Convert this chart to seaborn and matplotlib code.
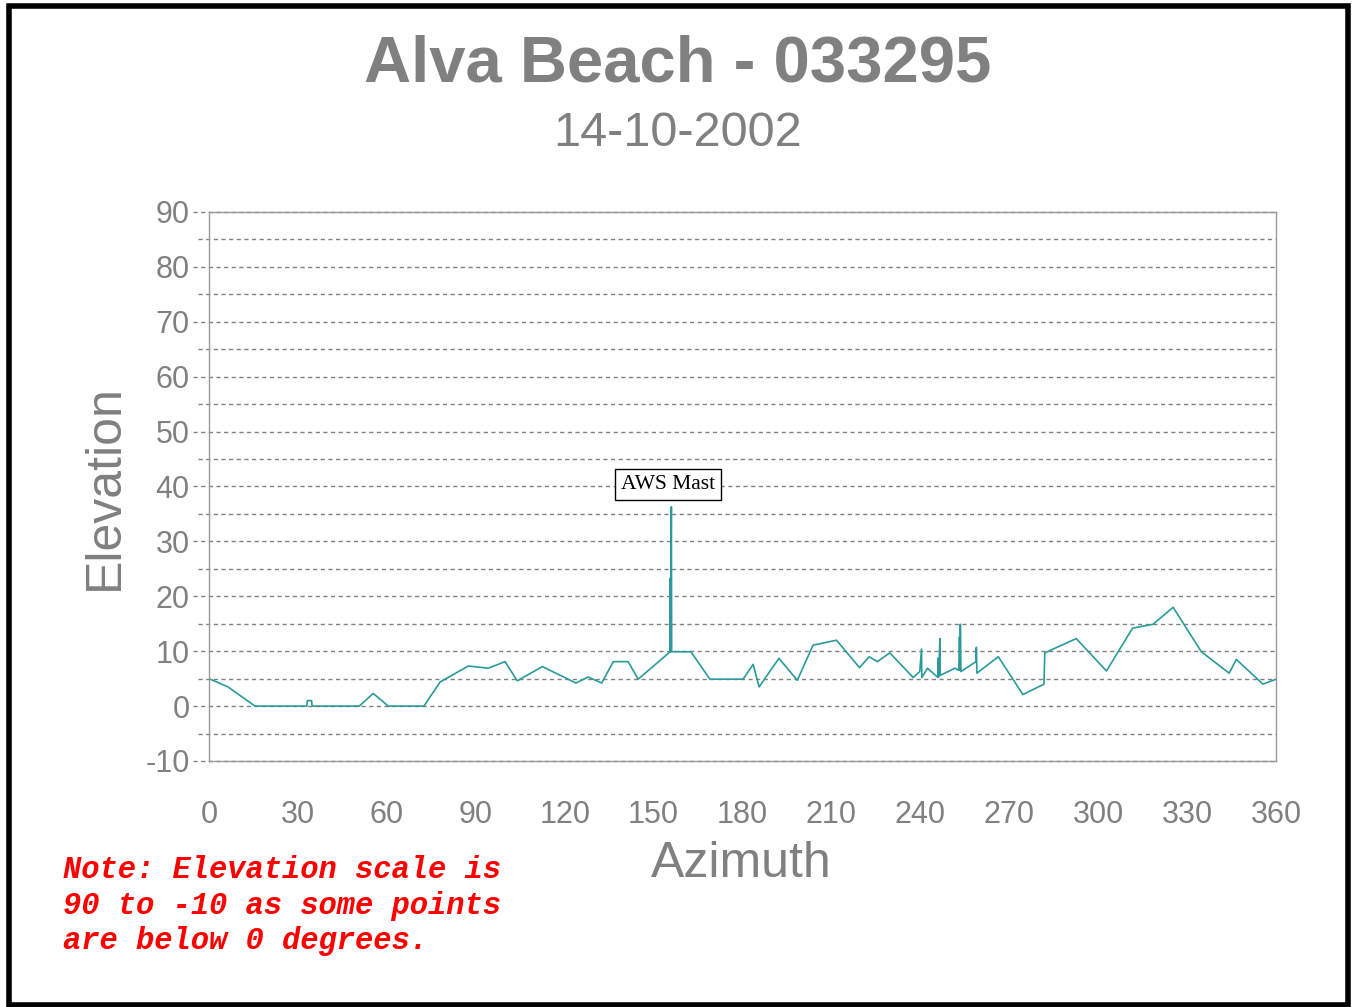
import matplotlib
matplotlib.use("Agg")
import matplotlib.pyplot as plt
import seaborn as sns
import pandas as pd
from matplotlib.patches import Rectangle

# Horizon profile (azimuth deg, elevation deg)
azimuth = [0, 6.4, 15.5, 33.0, 33.2, 34.6, 34.8, 50.7, 55.4, 60.5, 72.5, 78.0,
           87.5, 94.2, 99.9, 104.0, 112.5, 123.8, 127.9, 132.5, 136.4, 141.4,
           144.8, 155.6, 155.6, 155.7, 156.0, 156.1, 162.6, 169.0, 180.2,
           183.6, 185.6, 192.3, 198.5, 203.8, 211.7, 219.5, 222.7, 225.5,
           229.7, 237.6, 239.8, 240.4, 240.5, 242.4, 246.0, 246.0, 246.2,
           246.6, 246.7, 251.7, 253.0, 253.2, 253.4, 253.5, 253.7, 258.8,
           258.9, 259.1, 266.3, 274.6, 281.7, 282.0, 292.6, 302.8, 311.6,
           318.5, 325.3, 334.8, 344.2, 346.6, 355.6, 360.0]
elevation = [5.0, 3.5, 0.0, 0.0, 1.0, 1.0, 0.0, 0.0, 2.3, 0.0, 0.0, 4.4,
             7.3, 6.9, 8.1, 4.6, 7.2, 4.2, 5.3, 4.2, 8.1, 8.1,
             4.9, 9.9, 23.3, 9.9, 36.3, 9.9, 9.9, 4.9, 4.9,
             7.6, 3.5, 8.7, 4.7, 11.1, 12.0, 7.0, 9.0, 8.1,
             9.7, 5.2, 6.3, 10.4, 5.2, 6.9, 5.2, 8.7, 5.4,
             12.3, 5.6, 6.9, 6.5, 12.6, 6.6, 14.9, 6.3, 8.1,
             10.7, 6.0, 9.0, 2.1, 4.0, 9.7, 12.3, 6.4, 14.2,
             14.9, 18.0, 9.9, 6.0, 8.5, 4.0, 4.9]

x_ticks = list(range(0, 361, 30))
y_ticks = list(range(-10, 91, 10))
y_minor = list(range(-5, 90, 10))

GREY = "#808080"
LINE = "#2a9a9a"

df = pd.DataFrame({"Azimuth": azimuth, "Elevation": elevation})

sns.set_theme(style="white")
plt.rcParams["font.family"] = ["Liberation Sans", "DejaVu Sans"]
plt.rcParams["axes.unicode_minus"] = False

fig = plt.figure(figsize=(13.55, 10.07), dpi=100)
ax = fig.add_axes([209 / 1355, 1 - 761 / 1007, 1067 / 1355, 549 / 1007])

# dashed grid, stretched a little past the left spine like the original
for v in y_ticks:
    ax.axhline(v, xmin=-16 / 1067, xmax=1, color=GREY, lw=1, ls=(0, (3, 2.5)),
               clip_on=False, zorder=0)
for v in y_minor:
    ax.axhline(v, xmin=-11 / 1067, xmax=1, color=GREY, lw=1, ls=(0, (3, 2.5)),
               clip_on=False, zorder=0)

# raw order kept so the vertical spikes (repeated azimuths) survive
sns.lineplot(data=df, x="Azimuth", y="Elevation", sort=False, estimator=None,
             color=LINE, lw=1.2, ax=ax, legend=False)

ax.set_xlim(0, 360)
ax.set_ylim(-10, 90)
ax.set_xticks(x_ticks)
ax.set_yticks(y_ticks)
ax.tick_params(axis="x", length=0, pad=28, labelsize=22, labelcolor=GREY)
ax.tick_params(axis="y", length=0, pad=14, labelsize=22, labelcolor=GREY)
ax.set_xlabel("")
ax.set_ylabel("")
for s in ax.spines.values():
    s.set_color("#999999")
    s.set_linewidth(1)

ax.text(154.9, 40.4, "AWS Mast", ha="center", va="center", fontsize=15.5,
        family=["Liberation Serif", "DejaVu Serif"], color="black",
        bbox=dict(boxstyle="square,pad=0.28", fc="white", ec="black", lw=1))

fig.text(0.5, 1 - 65 / 1007, "Alva Beach - 033295", ha="center", va="center",
         fontsize=47, fontweight="bold", color=GREY)
fig.text(0.5, 1 - 134 / 1007, "14-10-2002", ha="center", va="center",
         fontsize=35, color=GREY)
fig.text(741 / 1355, 1 - 864 / 1007, "Azimuth", ha="center", va="center",
         fontsize=36, color=GREY)
fig.text(105 / 1355, 1 - 487 / 1007, "Elevation", ha="center", va="center",
         fontsize=36, color=GREY, rotation=90)

fig.text(63 / 1355, 1 - 855 / 1007,
         "Note: Elevation scale is\n90 to -10 as some points\nare below 0 degrees.",
         ha="left", va="top", fontsize=22, color="red", fontweight="bold",
         fontstyle="italic", family=["Liberation Mono", "DejaVu Sans Mono"],
         linespacing=1.25)

fig.patches.append(Rectangle((9 / 1355, 2 / 1007), 1338.5 / 1355, 999.5 / 1007,
                             transform=fig.transFigure, fill=False,
                             ec="black", lw=4))

fig.savefig("out.png", dpi=100, facecolor="white")
